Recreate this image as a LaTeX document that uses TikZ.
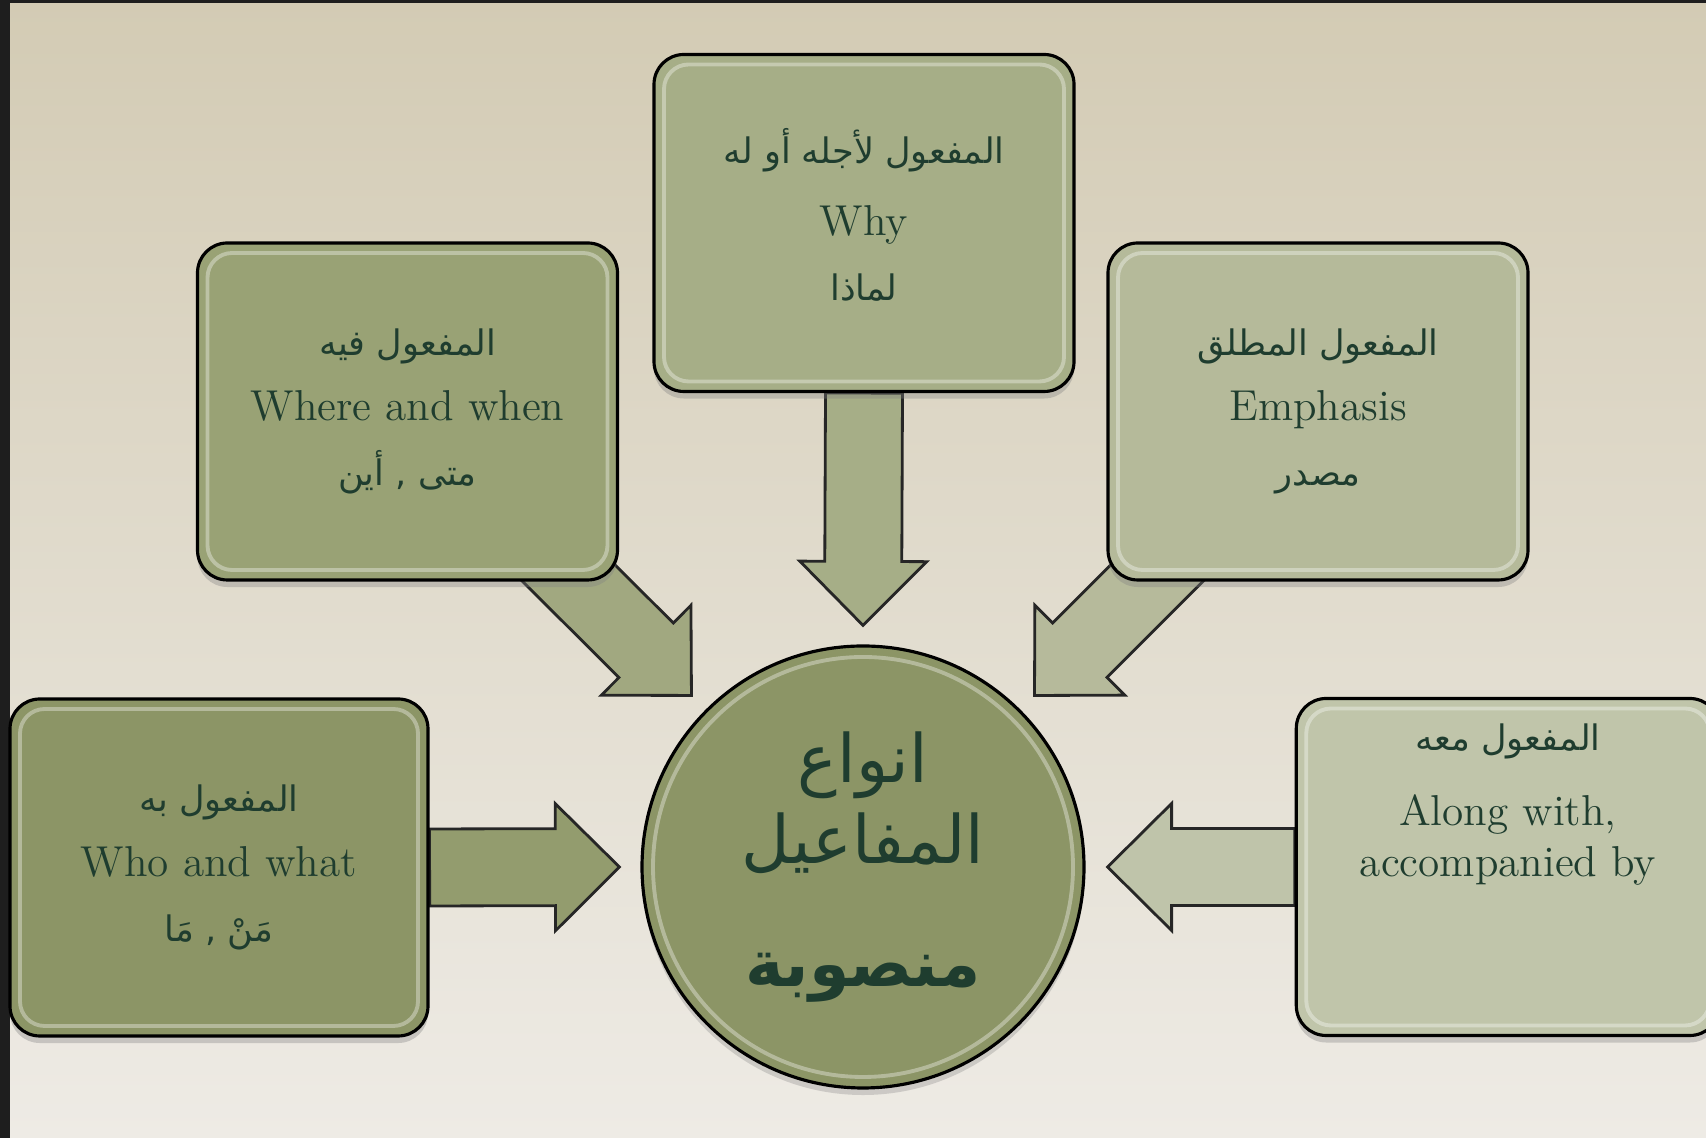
\documentclass[tikz,border=0pt]{standalone}
\usepackage{fontspec}
\usetikzlibrary{calc, shadows, positioning}
\newfontfamily\arabicfont[Script=Arabic]{DejaVu Sans}
\TeXXeTstate=1
\definecolor{bgtop}{HTML}{D3CBB4}
\definecolor{bgbot}{HTML}{EEEBE5}
\definecolor{frame}{HTML}{1E1E1E}
\definecolor{ink}{HTML}{1F3D2F}
\definecolor{whyF}{HTML}{A6AE87}
\definecolor{whereF}{HTML}{99A275}
\definecolor{emphF}{HTML}{B5BA9A}
\definecolor{whoF}{HTML}{8C9566}
\definecolor{alongF}{HTML}{C0C5AA}
\definecolor{arrW}{HTML}{939C6E}
\definecolor{arrE}{HTML}{BFC4AA}
\definecolor{arrNW}{HTML}{A1A880}
\definecolor{arrNE}{HTML}{B6BA9B}
\pgfdeclarelayer{bg}
\pgfdeclarelayer{arr}
\pgfsetlayers{bg,arr,main}
\newcommand{\ar}[1]{{\arabicfont\fontsize{10}{18}\selectfont\beginR #1\endR}}
\newcommand{\arbig}[1]{{\arabicfont\fontsize{19}{22}\selectfont\beginR #1\endR}}
\newcommand{\arbold}[1]{{\arabicfont\bfseries\fontsize{18.5}{24}\selectfont\beginR #1\endR}}
\tikzset{
  card/.style={rectangle, rounded corners=8.5pt, draw=black, line width=0.9pt,
               minimum width=4.2cm, minimum height=3.37cm, align=center,
               text=ink, font=\fontsize{12.3}{18.5}\selectfont,
               drop shadow={opacity=0.35, shadow xshift=0pt, shadow yshift=-2pt},
               path picture={\draw[white, opacity=0.35, line width=1.1pt, rounded corners=7pt]
                 ($(path picture bounding box.south west)+(0.1,0.1)$) rectangle
                 ($(path picture bounding box.north east)+(-0.1,-0.1)$);}},
  hubC/.style={circle, draw=black, line width=0.9pt, fill=whoF, minimum size=4.42cm,
               inner sep=0pt, align=center, text=ink, font=\fontsize{19}{23}\selectfont,
               drop shadow={opacity=0.3, shadow xshift=0pt, shadow yshift=-2pt},
               path picture={\draw[white, opacity=0.35, line width=1.1pt]
                 (path picture bounding box.center) circle (2.1cm);}},
  fatarrow/.style={draw=black!85, line width=0.8pt, line join=miter},
}
% block arrow: fill colour, tail, tip
\newcommand{\blockarrow}[3]{%
  \path let \p1=($(#3)-(#2)$) in
    \pgfextra{\pgfmathsetmacro{\arrlen}{veclen(\x1,\y1)}%
              \pgfmathsetmacro{\arrang}{atan2(\y1,\x1)}%
              \xdef\arrlen{\arrlen}\xdef\arrang{\arrang}};
  \draw[fatarrow, fill=#1, shift={(#2)}, rotate=\arrang]
    (0cm,-0.385cm) -- ({\arrlen pt-0.64cm},-0.385cm) -- ({\arrlen pt-0.64cm},-0.635cm)
    -- ({\arrlen pt},0cm) -- ({\arrlen pt-0.64cm},0.635cm)
    -- ({\arrlen pt-0.64cm},0.385cm) -- (0cm,0.385cm) -- cycle;
}

\begin{document}
\begin{tikzpicture}

  %% Backdrop
  \begin{pgfonlayer}{bg}
    \shade[top color=bgtop, bottom color=bgbot] (0,0) rectangle (17.06,11.38);
    \fill[frame] (0,0) rectangle (0.10,11.38);
    \fill[frame] (0,11.35) rectangle (17.06,11.38);
  \end{pgfonlayer}
  \useasboundingbox (0,0) rectangle (17.06,11.38);

  %% Centre
  \node[hubC] (hub) at (8.63,2.71)
    {\arbig{انواع}\\ \arbig{المفاعيل}\\[12pt] \arbold{منصوبة}};

  %% Boxes
  \node[card, fill=whyF] (whyBox) at (8.64,9.15)
    {\ar{المفعول لأجله أو له}\\[2pt] Why\\ \ar{لماذا}\\[-19pt]\strut};
  \node[card, fill=whereF] (whereBox) at (4.075,7.265)
    {\ar{المفعول فيه}\\ Where and when\\ \ar{متى , أين}};
  \node[card, fill=emphF] (emphBox) at (13.18,7.265)
    {\ar{المفعول المطلق}\\ Emphasis\\ \ar{مصدر}};
  \node[card, fill=whoF, minimum width=4.18cm] (whoBox) at (2.19,2.705)
    {\ar{المفعول به}\\ Who and what\\ \ar{مَنْ , مَا}};
  \node[card, fill=alongF] (alongBox) at (15.08,2.71)
    {\begin{minipage}[c][2.87cm][t]{4cm}\centering
       \fontsize{12.3}{14.5}\selectfont
       \ar{المفعول معه}\\[7pt] Along with,\\ accompanied by
     \end{minipage}};

  %% Arrows into the centre
  \coordinate (tipN)  at ($(hub.north)+(0,0.19)$);
  \coordinate (tipW)  at ($(hub.west)+(-0.21,0)$);
  \coordinate (tipE)  at ($(hub.east)+(0.22,0)$);
  \coordinate (tipNW) at ($(hub.north west)+(-0.14,0.14)$);
  \coordinate (tipNE) at ($(hub.north east)+(0.14,0.14)$);
  \coordinate (tailNW) at ($(whereBox.south east)+(-0.78,0.36)$);
  \coordinate (tailNE) at ($(emphBox.south west)+(0.78,0.36)$);
  \begin{pgfonlayer}{arr}
    \blockarrow{whyF}{whyBox.south}{tipN}
    \blockarrow{arrW}{whoBox.east}{tipW}
    \blockarrow{arrE}{alongBox.west}{tipE}
    \blockarrow{arrNW}{tailNW}{tipNW}
    \blockarrow{arrNE}{tailNE}{tipNE}
  \end{pgfonlayer}

\end{tikzpicture}
\end{document}
